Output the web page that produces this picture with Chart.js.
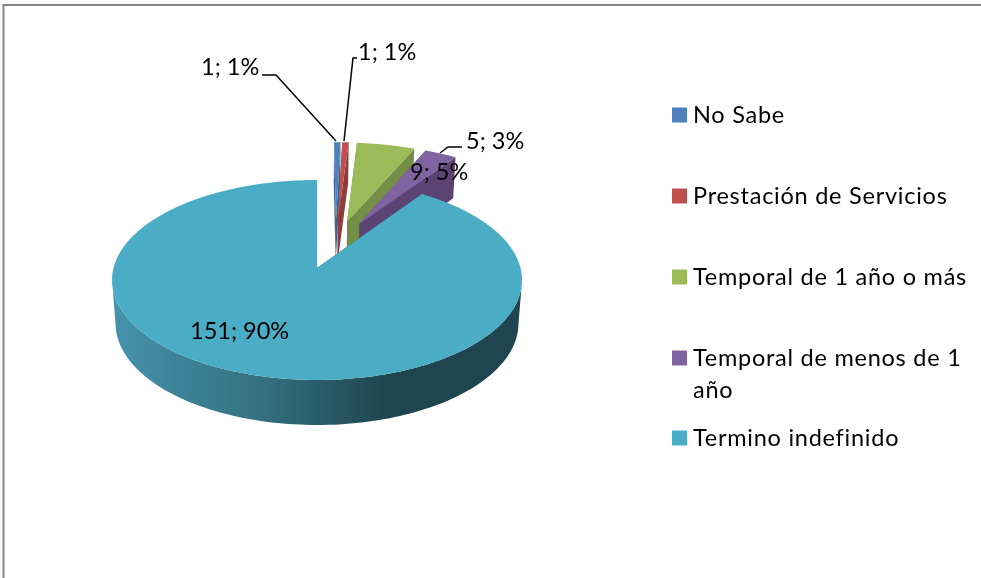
<!DOCTYPE html>
<html>
<head>
<meta charset="utf-8">
<script src="https://cdn.jsdelivr.net/npm/chart.js@4"></script>
<style>
  html, body { margin: 0; background: #fff; overflow: hidden; }
  canvas { display: block; }
</style>
</head>
<body>
<canvas id="chart" width="981" height="578"></canvas>
<script>
const categorias = ["No Sabe", "Prestación de Servicios", "Temporal de 1 año o más", "Temporal de menos de 1 año", "Termino indefinido"];
const valores = [1, 1, 9, 5, 151];
const colores = ["#4F81BD", "#C0504D", "#9BBB59", "#8064A2", "#4BACC6"];
const coloresLado = ["#3a5f8c", "#8e3b39", "#748E45", "#5B4474", "#1F4650"];

// donde va cada cosa en pantalla (no son datos)
const FONT = "23.5px Lato";
const CX = 317, RX = 203.5;
const EXPLODE = 0.26;
const AJUSTE_U = 0.017;
const leyendaY = [115, 196, 277, 358, 438];
const etiquetas = [
  { x: 201, y: 67 }, { x: 358, y: 52 }, { x: 410, y: 172 }, { x: 466, y: 141 }, { x: 190, y: 331 },
];
const guias = [
  [[262, 75], [276, 75], [336, 141]],
  [[357, 58], [353, 58], [344, 141]],
  null,
  [[462, 147], [448, 147], [440, 153]],
  null,
];

// el disco visto en perspectiva: u,v en el plano, radio 1
function proyectar(u, v) {
  const d = 1 - 0.12 * v;
  return { x: CX + RX * u / d, y: (66.4 * v + 268) / d };
}
function abajo(p) {
  return { x: CX + (p.x - CX) * 0.983, y: p.y + 41 + (p.y - 157) * 4 / 223 };
}

function trazar(ctx, puntos) {
  ctx.beginPath();
  puntos.forEach((p, i) => (i ? ctx.lineTo(p.x, p.y) : ctx.moveTo(p.x, p.y)));
  ctx.closePath();
}

const pie3d = {
  id: "pie3d",
  beforeDatasetsDraw(chart) {
    const ctx = chart.ctx;
    const arcs = chart.getDatasetMeta(0).data;
    const ang = (a) => a + Math.PI / 2;

    // centro comun, el trozo grande se separa de el igual que los otros
    const ultimo = arcs[arcs.length - 1];
    const medioG = ang((ultimo.startAngle + ultimo.endAngle) / 2);
    const u0 = -EXPLODE * Math.sin(medioG);
    const v0 = EXPLODE * Math.cos(medioG);

    arcs.forEach((arc, i) => {
      const a0 = ang(arc.startAngle), a1 = ang(arc.endAngle);
      const medio = (a0 + a1) / 2;
      const esGrande = i === arcs.length - 1;
      const cu = u0 + EXPLODE * Math.sin(medio) + (esGrande ? 0 : AJUSTE_U);
      const cv = v0 - EXPLODE * Math.cos(medio);
      const borde = [];
      const frente = [];
      const pasos = Math.max(4, Math.ceil((a1 - a0) * 40));
      for (let k = 0; k <= pasos; k++) {
        const t = a0 + (a1 - a0) * k / pasos;
        const p = proyectar(cu + Math.sin(t), cv - Math.cos(t));
        borde.push(p);
        // solo la parte de delante, la de atras queda tapada
        if (Math.cos(t) <= -0.12) frente.push(p);
      }
      const centro = proyectar(cu, cv);

      let lado = coloresLado[i];
      if (esGrande) {
        lado = ctx.createLinearGradient(116, 0, 383, 0);
        lado.addColorStop(0, "#4592AB");
        lado.addColorStop(0.55, "#33707F");
        lado.addColorStop(1, "#1F4650");
      }
      ctx.fillStyle = lado;
      trazar(ctx, [centro, borde[0], abajo(borde[0]), abajo(centro)]);
      ctx.fill();
      trazar(ctx, [centro, borde[pasos], abajo(borde[pasos]), abajo(centro)]);
      ctx.fill();
      if (frente.length) {
        trazar(ctx, frente.concat(frente.map(abajo).reverse()));
        ctx.fill();
      }

      ctx.fillStyle = colores[i];
      trazar(ctx, [centro].concat(borde));
      ctx.fill();
    });
    return false;
  },
  afterDraw(chart) {
    const ctx = chart.ctx;
    const total = valores.reduce((a, b) => a + b, 0);

    // marco
    ctx.strokeStyle = "#868686";
    ctx.lineWidth = 2;
    ctx.beginPath();
    ctx.moveTo(3.5, 578);
    ctx.lineTo(3.5, 5);
    ctx.lineTo(981, 5);
    ctx.stroke();

    ctx.font = FONT;
    ctx.fillStyle = "#000";
    ctx.textAlign = "left";
    ctx.textBaseline = "middle";
    valores.forEach((v, i) => {
      const txt = v + "; " + Math.round(v / total * 100) + "%";
      ctx.fillText(txt, etiquetas[i].x, etiquetas[i].y);
    });

    ctx.lineWidth = 1.5;
    ctx.strokeStyle = "#000";
    guias.forEach((g) => {
      if (!g) return;
      ctx.beginPath();
      g.forEach((p, i) => (i ? ctx.lineTo(p[0], p[1]) : ctx.moveTo(p[0], p[1])));
      ctx.stroke();
    });

    ctx.letterSpacing = "0.75px";
    categorias.forEach((nombre, i) => {
      ctx.fillStyle = colores[i];
      ctx.fillRect(672, leyendaY[i] - 7.5, 15, 15);
      ctx.fillStyle = "#000";
      if (i === 3) {
        ctx.fillText("Temporal de menos de 1", 693, leyendaY[i]);
        ctx.fillText("año", 693, leyendaY[i] + 32);
      } else {
        ctx.fillText(nombre, 693, leyendaY[i]);
      }
    });
  },
};

new Chart(document.getElementById("chart"), {
  type: "pie",
  data: {
    labels: categorias,
    datasets: [{ data: valores, backgroundColor: colores, borderWidth: 0 }],
  },
  options: {
    responsive: false,
    animation: false,
    events: [],
    plugins: { legend: { display: false }, tooltip: { enabled: false } },
  },
  plugins: [pie3d],
});
</script>
</body>
</html>
